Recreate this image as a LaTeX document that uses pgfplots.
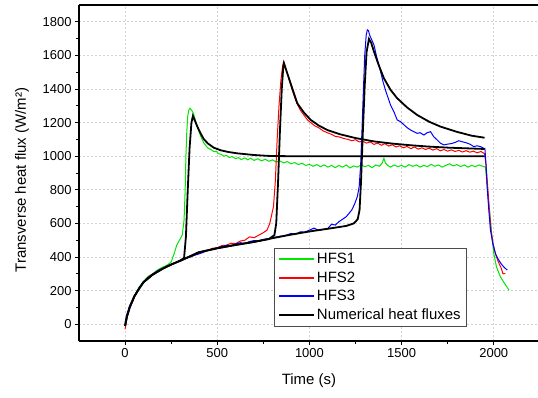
\documentclass[border=0pt]{standalone}
\usepackage{fontspec}
\setmainfont{Liberation Sans}
\usepackage{pgfplots}
\pgfplotsset{compat=1.18}
\definecolor{hfsgreen}{RGB}{0,230,0}
\definecolor{hfsred}{RGB}{255,0,0}
\definecolor{hfsblue}{RGB}{0,0,255}
\begin{document}
\begin{tikzpicture}
\begin{axis}[
  scale only axis, width=459bp, height=336bp,
  xmin=-250, xmax=2240, ymin=-100, ymax=1900,
  axis x line*=box, axis y line*=left,
  xtick pos=left, ytick pos=left,
  xtick={0,500,1000,1500,2000}, ytick={0,200,...,1800},
  minor x tick num=1, minor y tick num=1,
  tick align=outside, major tick length=4bp, minor tick length=2.5bp,
  tick style={black, line width=0.8bp},
  axis line style={line width=1.2bp},
  grid=major, major grid style={gray!35, line width=0.6bp, dash pattern=on 2bp off 2bp},
  /pgf/number format/assume math mode=true,
  /pgf/number format/1000 sep={},
  tick label style={font=\fontsize{13}{15}\selectfont},
  xlabel={Time (s)}, ylabel={Transverse heat flux (W/m²)},
  label style={font=\fontsize{15}{18}\selectfont},
  xlabel style={at={(axis description cs:0.501,-0.119)}, anchor=center},
  ylabel style={at={(axis description cs:-0.124,0.479)}, anchor=center},
  legend style={at={(rel axis cs:0.425,0.277)}, anchor=north west, draw=black!70, line width=0.6bp,
    fill=white, font=\fontsize{15}{17}\selectfont, inner xsep=4bp, inner ysep=3bp, row sep=2.6bp},
  legend cell align=left,
  legend image code/.code={\draw[#1, line width=1.6bp] (0bp,0bp) -- (35bp,0bp);},
]
\coordinate (bl) at (rel axis cs:0,0);
\coordinate (tr) at (rel axis cs:1,1);
% HFS1
\addplot[draw=hfsgreen, line width=1bp] coordinates {
(0,-5) (10,50) (25,105) (50,170) (75,218) (100,255) (125,285) (150,300) (175,322) (200,338) (225,350) (250,370) (266,420) (280,470) (295,500) (310,530) (320,620) (326,800) (330,1000) (335,1150) (340,1240) (346,1275) (352,1285) (362,1272) (371,1255) (380,1220) (390,1180) (400,1150) (410,1120) (420,1095) (428,1077) (440,1060) (450,1048) (465,1040) (482,1027) (495,1030) (505,1015) (520,1012) (535,1000) (550,1005) (565,992) (580,998) (600,985) (615,992) (630,980) (650,990) (665,978) (680,988) (700,975) (720,985) (740,972) (760,982) (780,970) (800,978) (820,965) (840,972) (860,960) (880,968) (900,955) (920,962) (940,950) (960,958) (980,945) (1000,952) (1020,940) (1040,950) (1060,938) (1080,948) (1100,935) (1120,945) (1140,932) (1160,945) (1180,935) (1200,948) (1220,930) (1240,942) (1260,935) (1280,948) (1300,938) (1320,945) (1340,932) (1360,948) (1380,940) (1395,960) (1404,987) (1412,960) (1425,945) (1440,935) (1460,948) (1480,938) (1500,945) (1520,935) (1540,950) (1560,940) (1580,948) (1600,935) (1620,945) (1640,938) (1660,952) (1680,940) (1700,948) (1720,935) (1740,945) (1760,955) (1780,942) (1800,950) (1820,938) (1840,948) (1860,935) (1880,945) (1900,938) (1920,948) (1940,940) (1955,935) (1962,850) (1970,750) (1982,620) (1992,500) (2000,421) (2015,340) (2036,282) (2060,240) (2083,203)
};
\addlegendentry{HFS1}
% HFS2
\addplot[draw=hfsred, line width=1bp] coordinates {
(0,-30) (10,40) (25,95) (50,160) (75,212) (100,250) (125,280) (150,300) (175,315) (200,330) (225,345) (250,355) (275,368) (300,380) (325,388) (350,400) (375,410) (400,422) (425,435) (450,440) (475,452) (500,455) (525,468) (550,470) (575,482) (600,480) (625,495) (650,500) (675,520) (700,515) (725,530) (750,545) (770,560) (785,600) (795,650) (805,700) (815,850) (825,1100) (835,1300) (845,1450) (855,1540) (860,1562) (866,1545) (875,1505) (890,1455) (905,1400) (920,1350) (934,1310) (950,1275) (970,1245) (990,1215) (1007,1200) (1030,1180) (1050,1170) (1075,1150) (1097,1140) (1120,1130) (1140,1118) (1160,1115) (1187,1105) (1210,1100) (1230,1092) (1250,1098) (1270,1085) (1290,1088) (1310,1078) (1330,1085) (1350,1070) (1370,1078) (1390,1065) (1410,1075) (1430,1060) (1450,1068) (1470,1055) (1490,1062) (1510,1050) (1530,1058) (1550,1045) (1570,1055) (1590,1042) (1610,1050) (1630,1040) (1650,1048) (1670,1036) (1690,1045) (1710,1032) (1730,1040) (1750,1030) (1770,1038) (1790,1028) (1810,1035) (1830,1025) (1850,1033) (1870,1024) (1890,1030) (1910,1020) (1930,1028) (1950,1015) (1958,950) (1965,850) (1975,700) (1985,560) (1998,470) (2010,415) (2025,370) (2040,335) (2050,300) (2063,302)
};
\addlegendentry{HFS2}
% HFS3
\addplot[draw=hfsblue, line width=1bp] coordinates {
(0,10) (10,60) (25,110) (50,168) (75,215) (100,252) (125,278) (150,298) (175,318) (200,330) (225,342) (250,358) (275,368) (300,382) (325,392) (350,398) (375,410) (400,418) (425,428) (450,440) (475,445) (500,455) (525,462) (550,470) (575,468) (600,478) (625,485) (650,480) (675,492) (700,498) (725,495) (750,505) (775,508) (800,515) (825,520) (850,525) (875,530) (900,540) (925,535) (950,550) (975,548) (1000,560) (1025,572) (1050,558) (1075,565) (1100,570) (1120,595) (1140,590) (1160,610) (1180,625) (1200,640) (1215,660) (1230,680) (1245,715) (1260,760) (1270,820) (1278,950) (1285,1150) (1293,1400) (1300,1600) (1308,1720) (1314,1752) (1320,1748) (1327,1720) (1335,1700) (1350,1663) (1365,1590) (1386,1504) (1400,1440) (1415,1385) (1440,1305) (1460,1260) (1476,1216) (1494,1206) (1510,1190) (1530,1170) (1550,1155) (1567,1146) (1585,1136) (1600,1140) (1621,1126) (1639,1140) (1657,1146) (1675,1115) (1693,1097) (1711,1077) (1729,1067) (1750,1072) (1770,1075) (1790,1082) (1810,1092) (1829,1086) (1850,1080) (1870,1072) (1892,1057) (1910,1062) (1928,1057) (1946,1047) (1952,1045) (1958,950) (1964,818) (1973,680) (1982,560) (1995,480) (2009,421) (2025,385) (2040,360) (2055,340) (2073,322)
};
\addlegendentry{HFS3}
% Numerical (3)
\addplot[draw=black, line width=1.8bp] coordinates {
(0,-10) (10,45) (25,100) (50,165) (75,210) (100,250) (150,295) (200,328) (250,355) (300,378) (320,395) (330,520) (340,800) (350,1050) (360,1200) (368,1240) (380,1208) (392,1176) (410,1135) (428,1100) (450,1075) (482,1050) (520,1035) (560,1025) (609,1017) (700,1007) (790,1001) (900,1000) (1950,1000)
};
\addlegendentry{Numerical heat fluxes}
\addplot[draw=black, line width=1.8bp, forget plot] coordinates {
(0,-10) (10,45) (25,100) (50,165) (75,210) (100,250) (150,295) (200,328) (250,355) (300,378) (400,428) (500,452) (600,472) (700,490) (780,507) (810,530) (820,600) (830,850) (840,1150) (850,1400) (858,1530) (862,1553) (875,1510) (898,1434) (934,1315) (970,1260) (1007,1216) (1050,1183) (1097,1156) (1168,1130) (1250,1108) (1350,1088) (1450,1075) (1550,1065) (1650,1057) (1750,1051) (1850,1047) (1950,1043)
};
\addplot[draw=black, line width=1.8bp, forget plot] coordinates {
(300,378) (400,428) (500,452) (600,472) (700,490) (800,512) (900,533) (1000,552) (1100,568) (1200,585) (1241,600) (1262,625) (1272,680) (1280,850) (1290,1150) (1300,1420) (1310,1620) (1323,1698) (1335,1675) (1350,1623) (1375,1545) (1404,1464) (1440,1395) (1476,1345) (1530,1290) (1585,1245) (1650,1205) (1711,1176) (1800,1145) (1880,1122) (1950,1110)
};
\end{axis}
\pgfresetboundingbox
\path ([xshift=-79bp,yshift=-57bp]bl) rectangle ([yshift=5bp]tr);
\end{tikzpicture}
\end{document}
